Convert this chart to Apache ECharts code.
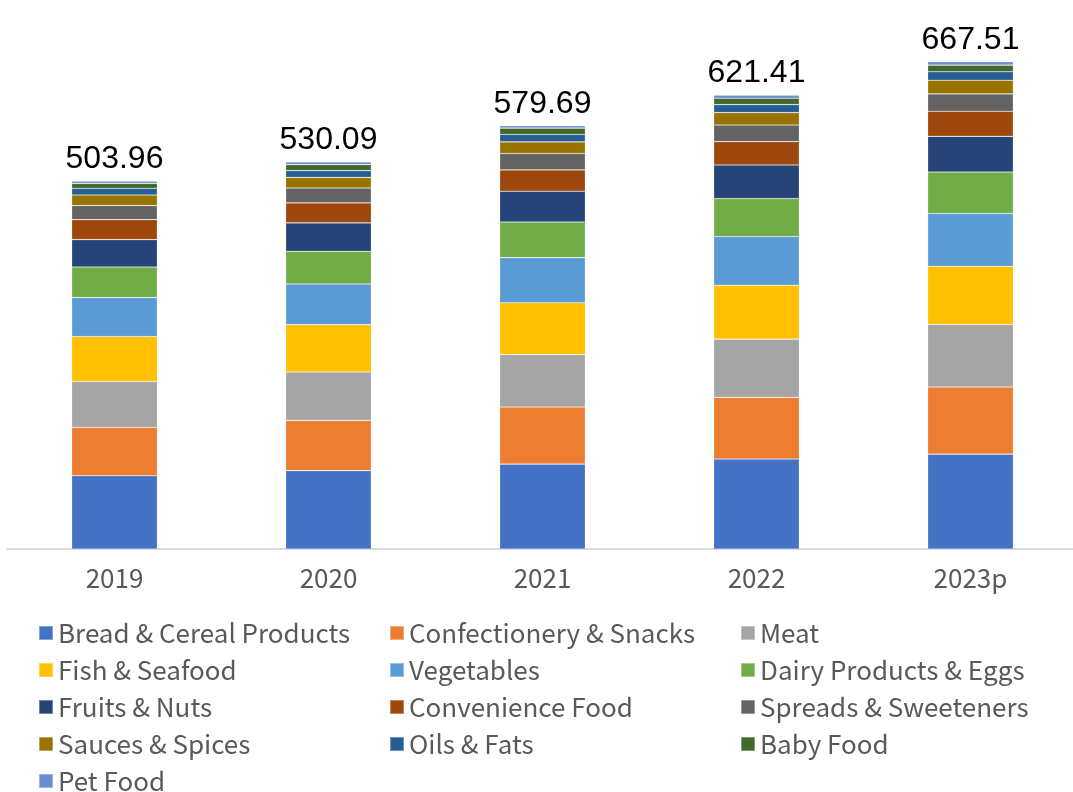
<!DOCTYPE html>
<html>
<head>
<meta charset="utf-8">
<script src="https://cdn.jsdelivr.net/npm/echarts@6/dist/echarts.min.js"></script>
<style>html,body{margin:0;padding:0;background:#fff;overflow:hidden;width:1073px;height:792px}#c{width:1078px;height:792px}</style>
</head>
<body>
<div id="c"></div>
<script>
const categories = ['2019', '2020', '2021', '2022', '2023p'];
const totals = ['503.96', '530.09', '579.69', '621.41', '667.51'];
const seriesNames = ['Bread & Cereal Products', 'Confectionery & Snacks', 'Meat', 'Fish & Seafood', 'Vegetables', 'Dairy Products & Eggs', 'Fruits & Nuts', 'Convenience Food', 'Spreads & Sweeteners', 'Sauces & Spices', 'Oils & Fats', 'Baby Food', 'Pet Food'];
const bread = [100.3, 107.3, 116.3, 123.2, 129.9];
const confectionery = [66.2, 68.9, 78.2, 84.5, 92.0];
const meat = [62.9, 66.3, 71.8, 79.8, 85.7];
const fish = [61.6, 64.8, 71.0, 73.9, 79.7];
const vegetables = [53.4, 55.8, 61.8, 66.7, 72.2];
const dairy = [41.9, 44.7, 48.9, 52.0, 56.9];
const fruits = [37.5, 38.9, 42.1, 46.0, 48.9];
const convenience = [27.4, 27.4, 29.2, 32.0, 34.3];
const spreads = [19.2, 20.5, 22.5, 22.7, 23.9];
const sauces = [14.5, 14.5, 15.9, 17.0, 18.7];
const oils = [9.2, 9.2, 10.2, 11.0, 11.5];
const baby = [6.8, 8.2, 8.6, 8.6, 9.1];
const pet = [3.1, 3.7, 3.2, 4.1, 4.7];
const seriesData = [bread, confectionery, meat, fish, vegetables, dairy, fruits, convenience, spreads, sauces, oils, baby, pet];
const colors = ['#4472C4', '#ED7D31', '#A5A5A5', '#FFC000', '#5B9BD5', '#70AD47', '#264478', '#9E480E', '#636363', '#997300', '#255E91', '#43682B', '#698ED0'];

const font = '"Noto Sans CJK KR", "Noto Sans", sans-serif';
const chart = echarts.init(document.getElementById('c'), null, {renderer: 'canvas'});
const series = seriesNames.map((name, i) => {
  const s = {
    name: name,
    type: 'bar',
    stack: 'total',
    barWidth: '40%',
    data: seriesData[i],
    itemStyle: {color: colors[i], borderColor: 'rgba(255,255,255,0.35)', borderWidth: 0.6},
    emphasis: {disabled: true}
  };
  if (i === seriesNames.length - 1) {
    s.label = {
      show: true,
      position: 'top',
      distance: 6,
      fontFamily: '"Liberation Sans", Arial, sans-serif',
      fontSize: 32,
      color: '#000',
      formatter: p => totals[p.dataIndex]
    };
  }
  return s;
});

chart.setOption({
  animation: false,
  color: colors,
  grid: {left: 7.5, right: 0.5, top: 38, bottom: 243, containLabel: false},
  xAxis: {
    type: 'category',
    data: categories,
    axisLine: {lineStyle: {color: '#D9D9D9', width: 2}},
    axisTick: {show: false},
    axisLabel: {color: '#595959', fontSize: 26, fontFamily: font, margin: 16}
  },
  yAxis: {
    type: 'value',
    min: 0,
    max: 700,
    show: false,
    splitLine: {show: false}
  },
  legend: {
    left: 38,
    top: 614.5,
    width: 1060,
    padding: 0,
    orient: 'horizontal',
    itemWidth: 14,
    itemHeight: 14,
    itemGap: 0,
    icon: 'rect',
    selectedMode: false,
    textStyle: {color: '#595959', fontSize: 26, fontFamily: font, width: 331, lineHeight: 37, overflow: 'none'},
    data: seriesNames
  },
  series: series
});
</script>
</body>
</html>
